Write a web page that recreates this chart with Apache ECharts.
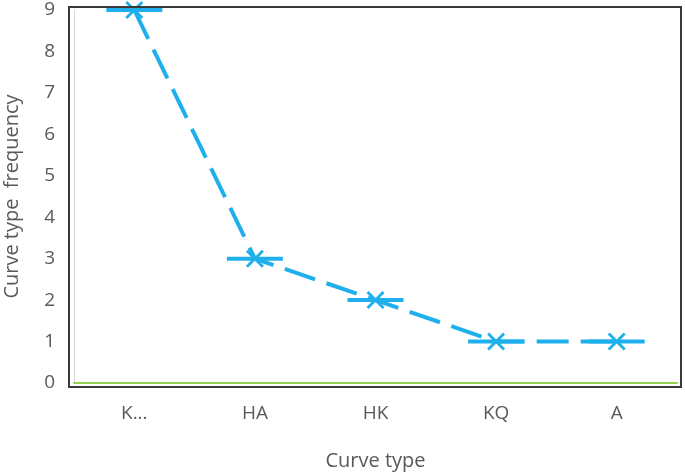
<!DOCTYPE html>
<html>
<head>
<meta charset="utf-8">
<script src="https://cdn.jsdelivr.net/npm/echarts@6/dist/echarts.min.js"></script>
<style>
  html, body { margin: 0; padding: 0; background: #fff; }
  #chart { width: 685px; height: 476px; }
</style>
</head>
<body>
<div id="chart"></div>
<script>
// data
var categories = ['K...', 'HA', 'HK', 'KQ', 'A'];
var frequency = [9, 3, 2, 1, 1];
var yTicks = [0, 9, 1]; // min, max, interval

var lineColor = '#1fb0ec';
var textColor = '#595959';
var fontFamily = '"Open Sans", "Noto Sans", sans-serif';

// x marker with a horizontal bar through it
var markerPath = 'path://M0,7 L56,7 L56,11 L0,11 Z' +
  ' M19,2 L21,0 L37,16 L35,18 Z' +
  ' M37,2 L21,18 L19,16 L35,0 Z';

var chart = echarts.init(document.getElementById('chart'));
chart.setOption({
  backgroundColor: '#fff',
  animation: false,
  grid: { left: 74, right: 8, top: 10, bottom: 93, containLabel: false, outerBoundsMode: 'none' },
  graphic: [{
    type: 'rect',
    shape: { x: 69, y: 7, width: 612, height: 380 },
    style: { fill: 'none', stroke: '#3a3a3a', lineWidth: 2 },
    z: 10
  }],
  xAxis: {
    type: 'category',
    data: categories,
    name: 'Curve type',
    nameLocation: 'middle',
    nameGap: 68,
    nameTextStyle: { color: textColor, fontSize: 20, fontFamily: fontFamily },
    axisLine: { lineStyle: { color: '#92d050', width: 2 } },
    axisTick: { show: false },
    axisLabel: { color: textColor, fontSize: 19, fontFamily: fontFamily, margin: 21 }
  },
  yAxis: {
    type: 'value',
    min: yTicks[0],
    max: yTicks[1],
    interval: yTicks[2],
    name: 'Curve type  frequency',
    nameLocation: 'middle',
    nameGap: 52,
    nameTextStyle: { color: textColor, fontSize: 20, fontFamily: fontFamily },
    axisLine: { show: true, lineStyle: { color: '#d9d9d9', width: 1 } },
    axisTick: { show: false },
    splitLine: { show: false },
    axisLabel: { color: textColor, fontSize: 19, fontFamily: fontFamily, margin: 19 }
  },
  series: [{
    type: 'line',
    data: frequency,
    symbol: markerPath,
    symbolSize: [56, 18],
    clip: false,
    lineStyle: { color: lineColor, width: 4, type: [32, 12] },
    itemStyle: { color: lineColor },
    z: 5
  }]
});
</script>
</body>
</html>
